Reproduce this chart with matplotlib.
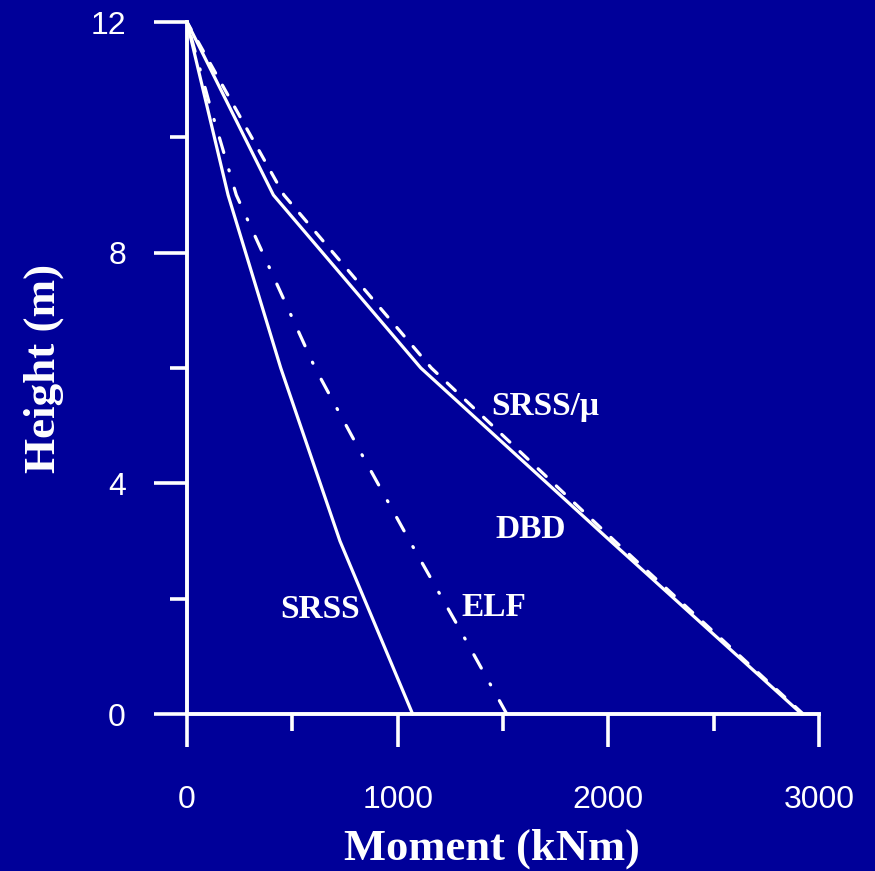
import matplotlib
matplotlib.use("Agg")
import matplotlib.pyplot as plt
from matplotlib.ticker import MultipleLocator

# data (moment in kNm, height in m)
heights = [0, 3, 6, 9, 12]
srss = [1071, 726, 445, 195, 0]
dbd = [2918, 2010, 1110, 410, 0]
srss_mu = [2925, 2030, 1160, 460, 0]

elf_heights = [0, 1.5, 3, 4.5, 6, 7.5, 9, 10.5, 12]
elf = [1518, 1290, 1057, 830, 608, 421, 234, 113, 0]

# curve labels: (text, x, y)
labels = [("SRSS/\u03bc", 1446, 5.18),
          ("DBD", 1462, 3.05),
          ("ELF", 1304, 1.70),
          ("SRSS", 441, 1.66)]

bg = "#000099"
fg = "white"
plt.rcParams["lines.scale_dashes"] = False

fig = plt.figure(figsize=(8.75, 8.71), dpi=100, facecolor=bg)
ax = fig.add_axes([187 / 875, 1 - 714 / 871, (819 - 187) / 875, (714 - 22) / 871])
ax.set_facecolor(bg)

lw = 2.3
ax.plot(srss, heights, color=fg, lw=lw, solid_capstyle="round", clip_on=False)
ax.plot(dbd, heights, color=fg, lw=lw, solid_capstyle="round", clip_on=False)
ax.plot(srss_mu, heights, color=fg, lw=lw, dash_capstyle="round",
        linestyle=(0, (8, 10)), clip_on=False)
ax.plot(elf, elf_heights, color=fg, lw=lw, dash_capstyle="round",
        linestyle=(0, (11, 13, 0.8, 13)), clip_on=False)

serif = ["Liberation Serif", "DejaVu Serif"]
for txt, x, y in labels:
    ax.text(x, y, txt, color=fg, fontsize=24, fontweight="bold",
            family=serif, ha="left", va="baseline")

ax.set_xlim(0, 3000)
ax.set_ylim(0, 12)
ax.xaxis.set_major_locator(MultipleLocator(1000))
ax.xaxis.set_minor_locator(MultipleLocator(500))
ax.yaxis.set_major_locator(MultipleLocator(4))
ax.yaxis.set_minor_locator(MultipleLocator(2))

for s in ["top", "right"]:
    ax.spines[s].set_visible(False)
for s in ["left", "bottom"]:
    ax.spines[s].set_color(fg)
    ax.spines[s].set_linewidth(2.8)

ax.tick_params(which="major", direction="out", length=24, width=2.6,
               color=fg, labelcolor=fg, labelsize=23, pad=20)
ax.tick_params(axis="x", which="major", pad=27)
ax.tick_params(which="minor", direction="out", length=12, width=2.6, color=fg)
for lab in ax.get_xticklabels() + ax.get_yticklabels():
    lab.set_family(["Liberation Sans", "DejaVu Sans"])

ax.set_xlabel("Moment (kNm)", color=fg, fontsize=32, fontweight="bold",
              family=serif, labelpad=10)
ax.xaxis.label.set_x(0.482)
ax.set_ylabel("Height (m)", color=fg, fontsize=32.5, fontweight="bold",
              family=serif, labelpad=19)

fig.savefig("out.png", dpi=100, facecolor=bg)
